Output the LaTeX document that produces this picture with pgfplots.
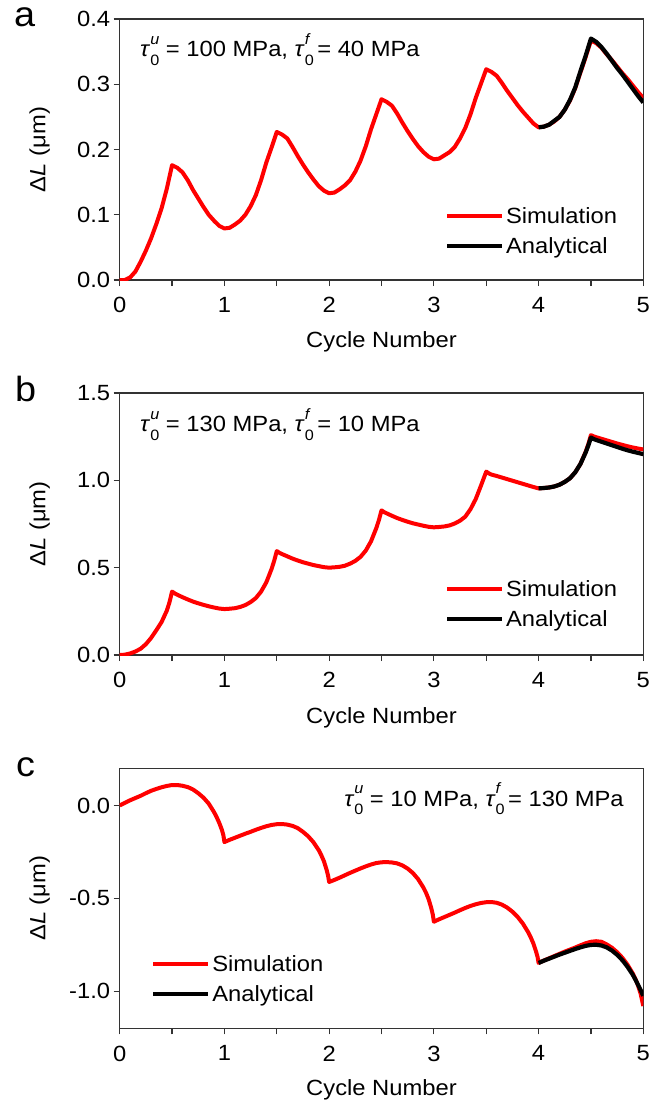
\documentclass[border=0pt]{standalone}
\usepackage{fontspec}
\setmainfont{Liberation Sans}[FakeStretch=1.08]
\usepackage{pgfplots}
\pgfplotsset{compat=1.18}
\newcommand\fs{\fontsize{22bp}{26bp}\selectfont}
\newcommand\tauu[1]{\textit{τ}\rlap{\raisebox{-8.5bp}{\fontsize{15bp}{18bp}\selectfont 0}}\raisebox{12.5bp}{\fontsize{15bp}{18bp}\selectfont\textit{#1}}}
\pgfplotsset{
  panel/.style={
    scale only axis, width=523.6bp,
    xmin=0, xmax=5, xtick={0,1,2,3,4,5}, minor xtick={0.5,1.5,2.5,3.5,4.5},
    tick align=outside, xtick pos=bottom, ytick pos=left,
    major tick length=6bp, minor tick length=6bp,
    axis line style={line width=1.2bp, black!80},
    tick style={line width=1.2bp, black!80},
    tick label style={font=\fs},
    /pgf/number format/assume math mode=true,
    yticklabel style={/pgf/number format/.cd, fixed, fixed zerofill, precision=1},
    xticklabel style={yshift=-8bp},
    label style={font=\fs},
    xlabel={Cycle Number},
    ylabel={Δ\textit{L} (μm)},
    xlabel style={at={(axis description cs:0.5,-0.26)}, anchor=base},
    ylabel style={at={(axis description cs:-0.153,0.5)}, anchor=center},
    legend cell align=left,
    legend image code/.code={\draw[##1, line width=4bp] (0bp,0bp) -- (55bp,0bp);},
    legend style={draw=none, fill=none, inner sep=0pt, font=\fs,
      nodes={inner sep=2bp, text height=15bp, text depth=0bp}, row sep=11bp},
  },
  sim/.style={red, line width=4bp, line join=round},
  ana/.style={black, line width=4.2bp, line join=round},
}
\begin{document}
\begin{tikzpicture}
\useasboundingbox (0,0) rectangle (649bp,-1106bp);
\node[anchor=base west, inner sep=0, font=\fontsize{35bp}{40bp}\selectfont] at (14bp,-26.7bp) {a};
\node[anchor=base west, inner sep=0, font=\fontsize{35bp}{40bp}\selectfont] at (15bp,-401.7bp) {b};
\node[anchor=base west, inner sep=0, font=\fontsize{35bp}{40bp}\selectfont] at (16bp,-776bp) {c};

% ---------------- panel a
\begin{axis}[panel, at={(119.7bp,-280bp)}, anchor=south west, height=261bp,
  ymin=0, ymax=0.4, ytick={0,0.1,0.2,0.3,0.4},
  legend style={at={(axis description cs:0.621,0.2816)}, anchor=north west}]
\addplot[sim] coordinates {
(0,0) (0.05,0) (0.1,0.004) (0.15,0.013) (0.2,0.028) (0.25,0.045) (0.3,0.064) (0.35,0.086) (0.4,0.11) (0.45,0.14) (0.5,0.176)
(0.55,0.172) (0.6,0.165) (0.65,0.153) (0.7,0.138) (0.75,0.125) (0.8,0.112) (0.85,0.100) (0.9,0.091) (0.95,0.083) (1.0,0.079)
(1.05,0.080) (1.1,0.085) (1.15,0.091) (1.2,0.100) (1.25,0.113) (1.3,0.130) (1.35,0.153) (1.4,0.180) (1.45,0.203) (1.5,0.227)
(1.55,0.223) (1.6,0.217) (1.65,0.204) (1.7,0.190) (1.75,0.177) (1.8,0.165) (1.85,0.154) (1.9,0.144) (1.95,0.137) (2.0,0.133)
(2.05,0.134) (2.1,0.139) (2.15,0.145) (2.2,0.153) (2.25,0.166) (2.3,0.183) (2.35,0.205) (2.4,0.231) (2.45,0.254) (2.5,0.277)
(2.55,0.273) (2.6,0.267) (2.65,0.255) (2.7,0.241) (2.75,0.228) (2.8,0.216) (2.85,0.205) (2.9,0.196) (2.95,0.189) (3.0,0.185)
(3.05,0.186) (3.1,0.191) (3.15,0.196) (3.2,0.204) (3.25,0.217) (3.3,0.233) (3.35,0.254) (3.4,0.279) (3.45,0.301) (3.5,0.323)
(3.55,0.319) (3.6,0.313) (3.65,0.302) (3.7,0.290) (3.75,0.279) (3.8,0.268) (3.85,0.258) (3.9,0.249) (3.95,0.240) (4.0,0.234)
(4.05,0.235) (4.1,0.238) (4.15,0.243) (4.2,0.250) (4.25,0.261) (4.3,0.275) (4.35,0.294) (4.4,0.318) (4.45,0.342) (4.5,0.367)
(4.55,0.363) (4.6,0.356) (4.65,0.346) (4.7,0.337) (4.75,0.327) (4.8,0.317) (4.85,0.308) (4.9,0.298) (4.95,0.288) (5.0,0.279)
};
\addlegendentry{Simulation}
\addplot[ana] coordinates {
(4.0,0.234) (4.05,0.235) (4.1,0.238) (4.15,0.244) (4.2,0.250) (4.25,0.261) (4.3,0.276) (4.35,0.295) (4.4,0.320) (4.45,0.344) (4.5,0.370)
(4.55,0.365) (4.6,0.357) (4.65,0.347) (4.7,0.336) (4.75,0.325) (4.8,0.315) (4.85,0.304) (4.9,0.293) (4.95,0.282) (5.0,0.272)
};
\addlegendentry{Analytical}
\node[anchor=base west, font=\fs, inner sep=0] at (rel axis cs:0.0388,0.8556) {\tauu{u} = 100 MPa,\ \tauu{f} = 40 MPa};
\end{axis}

% ---------------- panel b
\begin{axis}[panel, at={(119.7bp,-655bp)}, anchor=south west, height=262bp,
  ymin=0, ymax=1.5, ytick={0,0.5,1,1.5},
  legend style={at={(axis description cs:0.621,0.288)}, anchor=north west}]
\addplot[sim] coordinates {
(0,0) (0.05,0.002) (0.1,0.009) (0.15,0.020) (0.2,0.036) (0.25,0.062) (0.3,0.098) (0.35,0.142) (0.4,0.189) (0.45,0.254) (0.475,0.301) (0.5,0.363)
(0.525,0.353) (0.55,0.345) (0.6,0.331) (0.65,0.318) (0.7,0.306) (0.75,0.296) (0.8,0.287) (0.85,0.279) (0.9,0.272) (0.95,0.266) (1.0,0.263)
(1.05,0.265) (1.1,0.268) (1.15,0.275) (1.2,0.286) (1.25,0.303) (1.3,0.326) (1.35,0.363) (1.4,0.416) (1.45,0.492) (1.475,0.539) (1.5,0.595)
(1.525,0.585) (1.55,0.578) (1.6,0.565) (1.65,0.552) (1.7,0.541) (1.75,0.531) (1.8,0.523) (1.85,0.515) (1.9,0.509) (1.95,0.503) (2.0,0.500)
(2.05,0.502) (2.1,0.505) (2.15,0.511) (2.2,0.523) (2.25,0.539) (2.3,0.562) (2.35,0.598) (2.4,0.651) (2.45,0.726) (2.475,0.772) (2.5,0.828)
(2.525,0.818) (2.55,0.811) (2.6,0.797) (2.65,0.784) (2.7,0.773) (2.75,0.763) (2.8,0.754) (2.85,0.747) (2.9,0.740) (2.95,0.734) (3.0,0.731)
(3.05,0.733) (3.1,0.736) (3.15,0.742) (3.2,0.753) (3.25,0.769) (3.3,0.792) (3.35,0.835) (3.4,0.893) (3.45,0.970) (3.475,1.010) (3.5,1.050)
(3.525,1.040) (3.55,1.033) (3.6,1.025) (3.65,1.016) (3.7,1.007) (3.75,0.998) (3.8,0.989) (3.85,0.980) (3.9,0.971) (3.95,0.962) (4.0,0.954)
(4.05,0.956) (4.1,0.959) (4.15,0.965) (4.2,0.975) (4.25,0.991) (4.3,1.012) (4.35,1.046) (4.4,1.094) (4.45,1.164) (4.475,1.207) (4.5,1.259)
(4.525,1.252) (4.55,1.247) (4.6,1.238) (4.65,1.229) (4.7,1.220) (4.75,1.211) (4.8,1.203) (4.85,1.195) (4.9,1.188) (4.95,1.182) (5.0,1.177)
};
\addlegendentry{Simulation}
\addplot[ana] coordinates {
(4.0,0.954) (4.05,0.956) (4.1,0.959) (4.15,0.965) (4.2,0.975) (4.25,0.991) (4.3,1.012) (4.35,1.046) (4.4,1.094) (4.45,1.160) (4.475,1.200) (4.5,1.245)
(4.525,1.237) (4.55,1.231) (4.6,1.221) (4.65,1.211) (4.7,1.201) (4.75,1.191) (4.8,1.181) (4.85,1.172) (4.9,1.164) (4.95,1.157) (5.0,1.150)
};
\addlegendentry{Analytical}
\node[anchor=base west, font=\fs, inner sep=0] at (rel axis cs:0.0388,0.852) {\tauu{u} = 130 MPa,\ \tauu{f} = 10 MPa};
\end{axis}

% ---------------- panel c
\begin{axis}[panel, at={(119.7bp,-1028.3bp)}, anchor=south west, height=260bp,
  ymin=-1.2, ymax=0.2, ytick={-1,-0.5,0},
  legend style={at={(axis description cs:0.060,0.284)}, anchor=north west}]
\addplot[sim] coordinates {
(0,0) (0.05,0.014) (0.1,0.028) (0.15,0.040) (0.2,0.052) (0.25,0.066) (0.3,0.079) (0.35,0.089) (0.4,0.098) (0.45,0.105) (0.5,0.110)
(0.55,0.110) (0.6,0.106) (0.65,0.099) (0.7,0.086) (0.75,0.066) (0.8,0.042) (0.85,0.010) (0.9,-0.035) (0.925,-0.062) (0.95,-0.093) (0.975,-0.130) (0.99,-0.160) (1.0,-0.197)
(1.05,-0.185) (1.1,-0.174) (1.15,-0.163) (1.2,-0.152) (1.25,-0.142) (1.3,-0.131) (1.35,-0.121) (1.4,-0.112) (1.45,-0.105) (1.5,-0.101)
(1.55,-0.100) (1.6,-0.103) (1.65,-0.110) (1.7,-0.122) (1.75,-0.142) (1.8,-0.166) (1.85,-0.198) (1.9,-0.240) (1.925,-0.268) (1.95,-0.300) (1.975,-0.345) (1.99,-0.378) (2.0,-0.412)
(2.05,-0.401) (2.1,-0.389) (2.15,-0.376) (2.2,-0.363) (2.25,-0.351) (2.3,-0.339) (2.35,-0.328) (2.4,-0.318) (2.45,-0.310) (2.5,-0.306)
(2.55,-0.305) (2.6,-0.307) (2.65,-0.312) (2.7,-0.323) (2.75,-0.340) (2.8,-0.364) (2.85,-0.397) (2.9,-0.442) (2.925,-0.470) (2.95,-0.505) (2.975,-0.552) (2.99,-0.588) (3.0,-0.626)
(3.05,-0.613) (3.1,-0.601) (3.15,-0.589) (3.2,-0.577) (3.25,-0.564) (3.3,-0.552) (3.35,-0.541) (3.4,-0.532) (3.45,-0.525) (3.5,-0.521)
(3.55,-0.520) (3.6,-0.524) (3.65,-0.534) (3.7,-0.550) (3.75,-0.572) (3.8,-0.600) (3.85,-0.636) (3.9,-0.682) (3.925,-0.710) (3.95,-0.743) (3.975,-0.785) (3.99,-0.815) (4.0,-0.848)
(4.05,-0.835) (4.1,-0.823) (4.15,-0.811) (4.2,-0.799) (4.25,-0.787) (4.3,-0.776) (4.35,-0.765) (4.4,-0.753) (4.45,-0.742) (4.5,-0.734)
(4.55,-0.731) (4.6,-0.734) (4.65,-0.748) (4.7,-0.766) (4.75,-0.790) (4.8,-0.820) (4.85,-0.858) (4.9,-0.905) (4.925,-0.935) (4.95,-0.970) (4.975,-1.015) (5.0,-1.080)
};
\addlegendentry{Simulation}
\addplot[ana] coordinates {
(4.0,-0.848) (4.05,-0.836) (4.1,-0.825) (4.15,-0.814) (4.2,-0.803) (4.25,-0.793) (4.3,-0.783) (4.35,-0.773) (4.4,-0.764) (4.45,-0.756) (4.5,-0.751)
(4.55,-0.750) (4.6,-0.754) (4.65,-0.764) (4.7,-0.781) (4.75,-0.804) (4.8,-0.833) (4.85,-0.869) (4.9,-0.912) (4.925,-0.938) (4.95,-0.966) (4.975,-0.995) (5.0,-1.025)
};
\addlegendentry{Analytical}
\node[anchor=base east, font=\fs, inner sep=0] at (rel axis cs:0.963,0.855) {\tauu{u} = 10 MPa,\ \tauu{f} = 130 MPa};
\end{axis}
\end{tikzpicture}
\end{document}
